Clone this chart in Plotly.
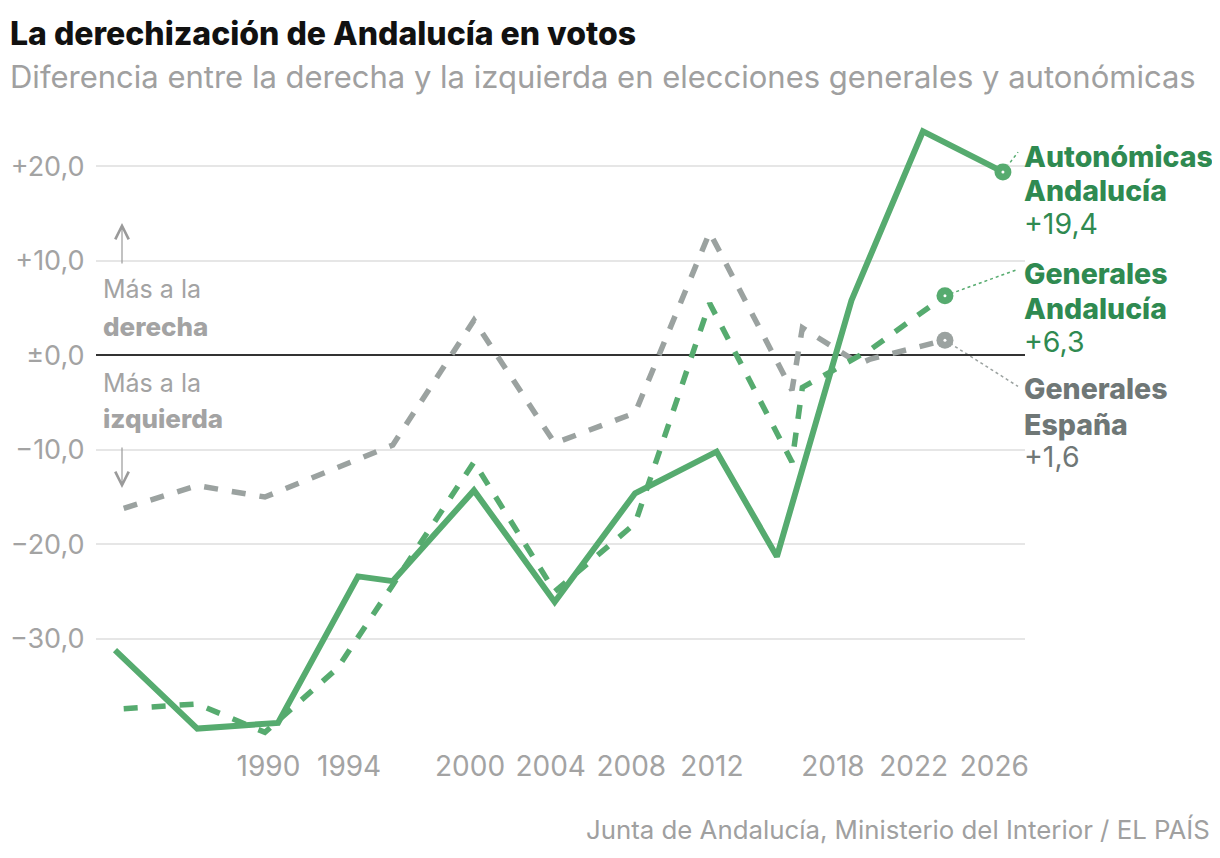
import plotly.graph_objects as go

# Diferencia derecha - izquierda (puntos porcentuales)
AUTO_DATES = [
    "1982-05-23", "1986-06-22", "1990-06-23", "1994-06-12", "1996-03-03",
    "2000-03-12", "2004-03-14", "2008-03-09", "2012-03-25", "2015-03-22",
    "2018-12-02", "2022-06-19", "2026-06-07",
]
AUTO_AND = [-31.2, -39.5, -38.9, -23.4, -23.9, -14.3, -26.1, -14.6, -10.2, -21.3, 5.8, 23.7, 19.4]

GEN_DATES = [
    "1982-10-28", "1986-06-22", "1989-10-29", "1993-06-06", "1996-03-03",
    "2000-03-12", "2004-03-14", "2008-03-09", "2011-11-20", "2015-12-20",
    "2016-06-26", "2019-04-28", "2019-11-10", "2023-07-23",
]
GEN_AND = [-37.4, -36.9, -39.9, -33.1, -24.3, -11.3, -25.0, -17.8, 5.5, -11.3, -3.4, -0.1, 0.6, 6.3]
GEN_ESP = [-16.2, -13.8, -15.0, -11.9, -9.5, 3.7, -9.3, -6.1, 13.0, -3.7, 2.9, -0.9, -0.4, 1.6]

TICK_YEARS = [1990, 1994, 2000, 2004, 2008, 2012, 2018, 2022, 2026]
Y_TICKS = [20, 10, 0, -10, -20, -30]
Y_TICKTEXT = ["+20,0", "+10,0", "±0,0", "−10,0", "−20,0", "−30,0"]

GREEN = "#56ab6f"
GREEN_TXT = "#2f8a51"
GRAY = "#9ba2a0"
GRAY_TXT = "#6f7776"
LIGHT = "#a3a3a3"
FONT = "Inter"

# the page has an 8px body margin, so the figure is a bit smaller than the window
OFF = 8
W, H = 1220 - OFF, 858 - OFF
L, R, T, B = 96 - OFF, 195, 119 - OFF, 120
PW, PH = W - L - R, H - T - B


def px_x(x):
    return (x - OFF - L) / PW


def px_y(y):
    return (H - B - (y - OFF)) / PH


fig = go.Figure()

fig.add_trace(go.Scatter(
    x=GEN_DATES, y=GEN_ESP, mode="lines",
    line=dict(color=GRAY, width=5.5, dash="14px,14px"),
    hoverinfo="skip",
))
fig.add_trace(go.Scatter(
    x=GEN_DATES, y=GEN_AND, mode="lines",
    line=dict(color=GREEN, width=5.5, dash="14px,14px"),
    hoverinfo="skip",
))
fig.add_trace(go.Scatter(
    x=AUTO_DATES, y=AUTO_AND, mode="lines",
    line=dict(color=GREEN, width=6),
    hoverinfo="skip",
))

# puntos finales
ends = [
    (AUTO_DATES[-1], AUTO_AND[-1], GREEN),
    (GEN_DATES[-1], GEN_AND[-1], GREEN),
    (GEN_DATES[-1], GEN_ESP[-1], GRAY),
]
for xd, yv, col in ends:
    fig.add_trace(go.Scatter(
        x=[xd], y=[yv], mode="markers",
        marker=dict(size=17, color=col, line=dict(width=0)),
        hoverinfo="skip",
    ))
    fig.add_trace(go.Scatter(
        x=[xd], y=[yv], mode="markers",
        marker=dict(size=3, color="white", line=dict(width=0)),
        hoverinfo="skip",
    ))

# líneas guía hacia las etiquetas
leaders = [
    (AUTO_DATES[-1], AUTO_AND[-1], "2027-03-08", 21.5, GREEN),
    (GEN_DATES[-1], GEN_AND[-1], "2027-03-08", 9.1, GREEN),
    (GEN_DATES[-1], GEN_ESP[-1], "2027-03-08", -3.3, GRAY),
]
for x0, y0, x1, y1, col in leaders:
    fig.add_shape(type="line", xref="x", yref="y", x0=x0, y0=y0, x1=x1, y1=y1,
                  line=dict(color=col, width=1.5, dash="dot"), layer="below")

annotations = []


def label(text, ypx, color, size=28.5, x=1022, anchor="left", weight="normal"):
    annotations.append(dict(
        text=text, xref="paper", yref="paper", x=px_x(x), y=px_y(ypx),
        xanchor=anchor, yanchor="middle", showarrow=False,
        font=dict(family=FONT, size=size, color=color, weight=weight),
    ))


# etiquetas de series
label("Autonómicas", 156, GREEN_TXT, weight=800)
label("Andalucía", 190, GREEN_TXT, weight=800)
label("+19,4", 223, GREEN_TXT)
label("Generales", 273, GREEN_TXT, weight=800)
label("Andalucía", 308, GREEN_TXT, weight=800)
label("+6,3", 341, GREEN_TXT)
label("Generales", 388, GRAY_TXT, weight=800)
label("España", 424, GRAY_TXT, weight=800)
label("+1,6", 456, GRAY_TXT)

# texto explicativo izquierdo
label("Más a la", 289, LIGHT, size=25, x=101)
label("derecha", 326, LIGHT, size=26, x=101, weight=800)
label("Más a la", 383, LIGHT, size=25, x=101)
label("izquierda", 419, LIGHT, size=26, x=101, weight=800)

# flechas
annotations.append(dict(
    xref="paper", yref="paper", x=px_x(122), y=px_y(223), ax=0, ay=42,
    showarrow=True, arrowhead=5, arrowsize=2.2, arrowwidth=1.2, arrowcolor="#9a9a9a", text="",
))
annotations.append(dict(
    xref="paper", yref="paper", x=px_x(122), y=px_y(488), ax=0, ay=-42,
    showarrow=True, arrowhead=5, arrowsize=2.2, arrowwidth=1.2, arrowcolor="#9a9a9a", text="",
))

# título, subtítulo y fuente
label("La derechización de Andalucía en votos", 33, "#111111", size=32, x=8, weight=800)
label("Diferencia entre la derecha y la izquierda en elecciones generales y autonómicas",
      77, "#a0a0a0", size=31, x=8)
label("Junta de Andalucía, Ministerio del Interior / EL PAÍS", 829, "#a0a0a0", size=25.8,
      x=1212, anchor="right")

fig.update_layout(
    template="none",
    width=W, height=H,
    margin=dict(l=L, r=R, t=T, b=B, pad=0),
    paper_bgcolor="white", plot_bgcolor="white",
    showlegend=False,
    annotations=annotations,
    font=dict(family=FONT),
)
fig.update_xaxes(
    type="date",
    range=["1981-06-13", "2027-07-12"],
    tickvals=[f"{y}-01-01" for y in TICK_YEARS],
    ticktext=[str(y) for y in TICK_YEARS],
    tickfont=dict(family=FONT, size=28, color=LIGHT),
    ticks="outside", ticklen=3, tickcolor="rgba(0,0,0,0)",
    showgrid=False, zeroline=False, showline=False, automargin=False,
)
fig.update_yaxes(
    range=[-40.5, 25],
    tickvals=Y_TICKS, ticktext=Y_TICKTEXT,
    tickfont=dict(family=FONT, size=27, color=LIGHT),
    ticks="outside", ticklen=5, tickcolor="rgba(0,0,0,0)",
    showgrid=True, gridcolor="#e6e6e6", gridwidth=2,
    zeroline=True, zerolinecolor="#333333", zerolinewidth=1.6,
    showline=False, automargin=False,
)

fig.write_html("out.html")
